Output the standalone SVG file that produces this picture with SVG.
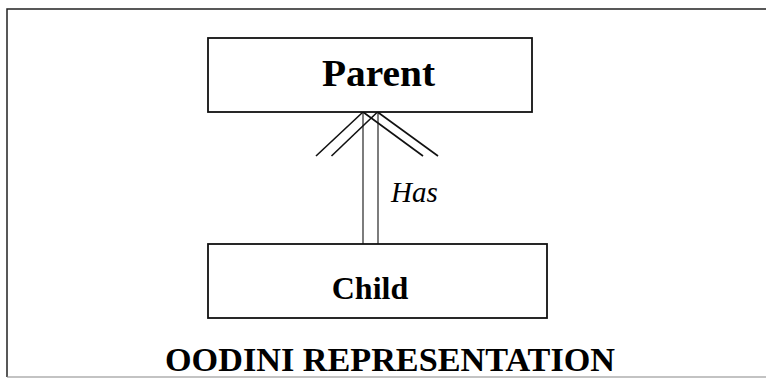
<svg xmlns="http://www.w3.org/2000/svg" width="766" height="378" viewBox="0 0 766 378">
  <style>
    .frame { fill: none; stroke: #222; stroke-width: 1.5; }
    .box { fill: #fff; stroke: #111; stroke-width: 1.8; }
    .rel { fill: none; stroke: #111; stroke-width: 1.1; }
    .foot { fill: none; stroke: #111; stroke-width: 1.6; }
    .name { font-family: "Liberation Serif", "Times New Roman", serif; font-weight: bold; fill: #000; }
    .role { font-family: "Liberation Serif", "Times New Roman", serif; font-style: italic; font-size: 29px; fill: #000; }
  </style>
  <rect width="766" height="378" fill="#fff"/>

  <!-- outer frame (open on the right) -->
  <g id="frame">
    <path class="frame" d="M766 9 H7 V377"/>
    <path d="M7 377 H766" fill="none" stroke="#888" stroke-width="1.2"/>
  </g>

  <!-- connectors: double line with crow's foot at the parent end -->
  <g id="connectors">
    <line class="rel" x1="363" y1="112" x2="363" y2="244"/>
    <line class="rel" x1="378" y1="112" x2="378" y2="244"/>
    <line class="foot" x1="316" y1="156" x2="363" y2="112"/>
    <line class="foot" x1="331.5" y1="156" x2="377.5" y2="112"/>
    <line class="foot" x1="423" y1="156" x2="363" y2="112"/>
    <line class="foot" x1="438" y1="156" x2="377.5" y2="112"/>
    <text class="role" x="391" y="202">Has</text>
  </g>

  <g id="parent">
    <rect class="box" x="208" y="38" width="324" height="74"/>
    <text class="name" x="322" y="86" font-size="37" textLength="113" lengthAdjust="spacingAndGlyphs">Parent</text>
  </g>

  <g id="child">
    <rect class="box" x="208" y="244" width="339" height="74"/>
    <text class="name" x="370" y="299" font-size="32" text-anchor="middle">Child</text>
  </g>

  <g id="title">
    <text class="name" x="165" y="371" font-size="34" textLength="450" lengthAdjust="spacingAndGlyphs">OODINI REPRESENTATION</text>
  </g>
</svg>
